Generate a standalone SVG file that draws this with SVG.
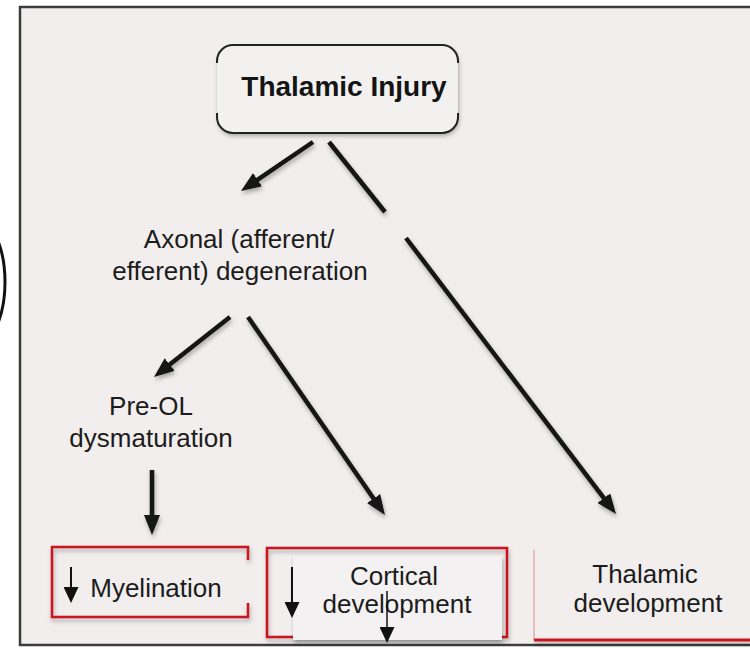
<svg xmlns="http://www.w3.org/2000/svg" width="750" height="648" viewBox="0 0 750 648">
  <style>
    .txt { font-family: "Liberation Sans", Arial, sans-serif; font-size: 26px; fill: #1c1c1c; text-anchor: middle; }
    .title { font-family: "Liberation Sans", Arial, sans-serif; font-size: 28px; font-weight: bold; fill: #141414; text-anchor: middle; }
    .conn { stroke: #141414; stroke-width: 4.5; fill: none; }
    .red { stroke: #c8141e; stroke-width: 2.5; fill: none; }
    .small { stroke: #111; stroke-width: 2; fill: none; }
  </style>
  <defs>
    <marker id="head" markerUnits="userSpaceOnUse" markerWidth="20" markerHeight="16" refX="6" refY="8" orient="auto">
      <path d="M0,0 L20,8 L0,16 z" fill="#141414"/>
    </marker>
    <marker id="headS" markerUnits="userSpaceOnUse" markerWidth="16" markerHeight="15" refX="4" refY="7.5" orient="auto">
      <path d="M0,0 L16,7.5 L0,15 z" fill="#111"/>
    </marker>
    <filter id="sh" filterUnits="userSpaceOnUse" x="0" y="0" width="750" height="648">
      <feDropShadow dx="1" dy="3" stdDeviation="2" flood-color="#000" flood-opacity="0.3"/>
    </filter>
  </defs>

  <rect x="0" y="0" width="750" height="648" fill="#ffffff"/>
  <rect x="20" y="7" width="745" height="638" fill="#f1eeed" stroke="#3c3c3c" stroke-width="2.5"/>
  <ellipse cx="-32" cy="282" rx="37" ry="70" fill="none" stroke="#111" stroke-width="3"/>

  <g id="thalamic-injury">
    <rect x="217" y="45" width="241" height="88" rx="16" fill="#f3f1f0" stroke="none" filter="url(#sh)"/>
    <path d="M217,63 V61 A16,16 0 0 1 233,45 H442 A16,16 0 0 1 458,61 V63" stroke="#222" stroke-width="2" fill="none"/>
    <path d="M217,113 V117 A16,16 0 0 0 233,133 H442 A16,16 0 0 0 458,117 V113" stroke="#222" stroke-width="2" fill="none"/>
    <text class="title" x="344" y="96">Thalamic Injury</text>
  </g>

  <g id="axonal-degeneration">
    <text class="txt" x="239" y="248">Axonal (afferent/</text>
    <text class="txt" x="240" y="280">efferent) degeneration</text>
  </g>

  <g id="pre-ol">
    <text class="txt" x="151" y="415">Pre-OL</text>
    <text class="txt" x="151" y="447">dysmaturation</text>
  </g>

  <g id="myelination">
    <path class="red" d="M248,560 V547 H52 V617 H248 V603" filter="url(#sh)"/>
    <line class="small" x1="71" y1="567" x2="71" y2="591" marker-end="url(#headS)"/>
    <text class="txt" x="156" y="597">Myelination</text>
  </g>

  <g id="cortical-development">
    <rect class="red" x="267" y="548" width="240" height="89" filter="url(#sh)"/>
    <rect x="293" y="556" width="209" height="84" fill="#f3f1f1" filter="url(#sh)"/>
    <line class="small" x1="292" y1="567" x2="292" y2="606" marker-end="url(#headS)"/>
    <text class="txt" x="394" y="585">Cortical</text>
    <text class="txt" x="397" y="613">development</text>
    <line x1="387" y1="591" x2="387" y2="631" stroke="#111" stroke-width="1.5" marker-end="url(#headS)"/>
  </g>

  <g id="thalamic-development">
    <line x1="534" y1="550" x2="534" y2="640" stroke="#e28a8a" stroke-width="1"/>
    <line x1="534" y1="640" x2="750" y2="640" stroke="#c8141e" stroke-width="3" filter="url(#sh)"/>
    <text class="txt" x="645" y="583">Thalamic</text>
    <text class="txt" x="648" y="612">development</text>
  </g>

  <g id="connectors" filter="url(#sh)">
    <line class="conn" x1="313" y1="142" x2="252.6" y2="183.1" marker-end="url(#head)"/>
    <line class="conn" x1="329" y1="142" x2="385" y2="212"/>
    <line class="conn" x1="406" y1="238" x2="607.5" y2="502.9" marker-end="url(#head)"/>
    <line class="conn" x1="230" y1="317" x2="165" y2="368.3" marker-end="url(#head)"/>
    <line class="conn" x1="248" y1="317" x2="377" y2="503.5" marker-end="url(#head)"/>
    <line class="conn" x1="152" y1="470" x2="152" y2="521" marker-end="url(#head)"/>
  </g>
</svg>
